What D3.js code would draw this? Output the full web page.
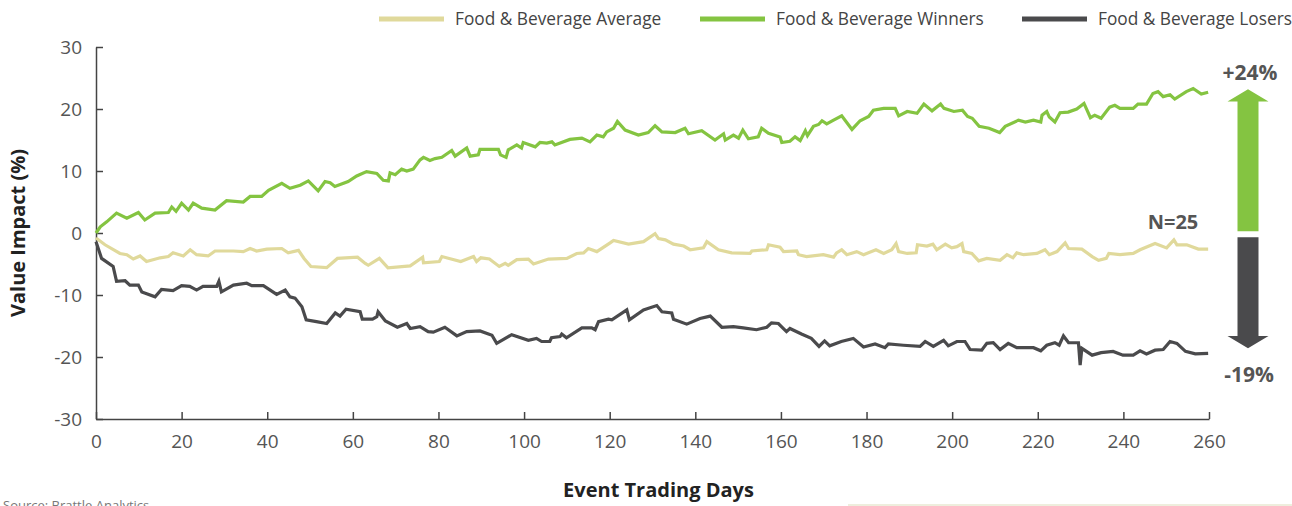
<!DOCTYPE html>
<html>
<head>
<meta charset="utf-8">
<script src="https://cdn.jsdelivr.net/npm/d3@7"></script>
<style>
  body { margin: 0; background: #fff; }
  svg { display: block; font-family: "Open Sans", sans-serif; }
  .axis path, .axis line { stroke: #444; stroke-width: 1.5; }
  .axis text { fill: #555; font-size: 19px; font-family: "Open Sans", sans-serif; }
</style>
</head>
<body>
<svg id="chart" width="1292" height="506"></svg>
<script>
// [day, value impact %]
var averageSeries = [[0,-0.8],[2.1,-1.9],[5.6,-3.3],[7.2,-3.5],[8.7,-4.2],[10.3,-3.7],[11.8,-4.6],[15,-4.0],[16.9,-3.8],[18,-3.2],[20.4,-3.7],[22,-2.7],[23.5,-3.5],[26.2,-3.7],[27.8,-2.9],[32.1,-2.9],[34.4,-3.0],[36,-2.5],[37.5,-2.9],[39.9,-2.6],[43.4,-2.5],[44.9,-3.2],[47.3,-2.8],[48.6,-4.1],[50.2,-5.4],[53.9,-5.6],[56.4,-4.1],[61.1,-3.9],[62.9,-4.9],[63.6,-5.2],[66.2,-4.1],[68.2,-5.6],[73.4,-5.3],[76.3,-3.9],[76.5,-4.8],[80.2,-4.6],[80.8,-3.8],[85.2,-4.6],[88.2,-3.8],[88.9,-4.6],[89.9,-4.0],[91.9,-4.2],[94.2,-5.4],[95.6,-4.9],[96.3,-5.2],[98.3,-4.3],[101,-4.2],[102.2,-5.0],[105.7,-4.2],[110,-4.1],[112.3,-3.3],[113.9,-3.2],[115,-2.5],[117,-3.0],[120.1,-1.6],[120.9,-1.2],[124.4,-1.8],[127.9,-1.4],[130.6,-0.1],[131.4,-0.9],[133,-1.1],[134.9,-1.8],[137.3,-2.1],[138.8,-2.7],[141.9,-2.4],[142.7,-1.4],[145.4,-2.7],[148.5,-3.2],[152.8,-3.3],[153.2,-2.9],[156.7,-2.7],[157.1,-1.9],[159.8,-2.3],[160.6,-3.0],[163.7,-2.9],[164.1,-3.5],[166,-3.8],[169.9,-3.5],[172.3,-3.9],[173,-3.2],[174.2,-2.7],[175.4,-3.5],[177.7,-3.0],[179.3,-3.5],[182.2,-2.7],[184,-3.3],[185.9,-2.7],[186.9,-1.7],[187.5,-3.0],[189.5,-3.3],[191.6,-3.2],[191.9,-1.9],[194.1,-2.1],[195.5,-1.8],[196.4,-2.7],[198.4,-1.8],[199.9,-2.4],[201.1,-2.2],[202.3,-1.7],[202.7,-3.0],[204.6,-3.3],[206.2,-4.5],[208.1,-4.1],[211.2,-4.4],[212.8,-3.5],[214.2,-4.0],[215.1,-3.2],[216.7,-3.5],[219.8,-3.3],[221.7,-2.7],[222.7,-3.5],[224.5,-3.0],[226.4,-1.6],[227.2,-2.5],[230.3,-2.6],[232.7,-3.8],[234.2,-4.4],[236,-4.1],[236.6,-3.3],[239.2,-3.5],[242.3,-3.3],[243.9,-2.7],[247.4,-1.7],[250.1,-2.4],[251.8,-1.1],[252.5,-1.9],[254.8,-1.9],[257.5,-2.6],[259.8,-2.6]];

var winnersSeries = [[0,0],[1,1],[2.5,1.8],[4.8,3.2],[7.2,2.4],[9.9,3.3],[11.4,2.1],[13.8,3.2],[16.9,3.3],[17.7,4.2],[18.7,3.5],[20,4.8],[21.6,3.7],[22.7,4.8],[24.7,4.0],[27.8,3.7],[30.5,5.2],[34.4,5.0],[36,5.9],[38.7,5.9],[40.3,6.9],[43.4,8.0],[45.3,7.2],[47.7,7.7],[49.6,8.4],[51.9,6.8],[53.5,8.3],[54.7,8.1],[55.8,7.5],[58.9,8.3],[60.9,9.2],[63.2,9.9],[65.6,9.6],[67.1,8.5],[68.3,8.4],[68.7,9.7],[69.9,9.4],[71.4,10.3],[72.6,10.0],[74.1,10.3],[75.7,11.8],[76.5,12.2],[78,11.7],[79.2,12.0],[80.8,12.2],[83.1,13.3],[83.9,12.4],[86.6,13.7],[87.4,12.4],[89.3,12.6],[89.7,13.5],[94,13.5],[94.5,12.6],[95.8,12.2],[96.3,13.4],[98.3,14.2],[99.4,13.7],[99.8,14.6],[102.6,13.9],[103.7,14.6],[105.3,14.5],[106.5,14.7],[107.2,14.2],[110.7,15.1],[113.5,15.3],[115.4,14.7],[117,15.8],[118.5,15.5],[119.3,16.3],[120.9,16.9],[121.8,18.0],[123.6,16.6],[126.7,15.8],[129,16.2],[130.6,17.3],[132.2,16.3],[135.3,16.2],[137.6,16.9],[138.4,16.0],[141.5,16.5],[144.6,15.0],[146.6,16.0],[147,15.0],[148.9,15.8],[150.1,15.3],[151.1,16.6],[152.4,15.2],[154.7,15.5],[155.5,16.9],[157.1,16.1],[159.8,15.5],[160.2,14.6],[162.1,14.8],[163.3,15.5],[164.5,14.9],[165.7,16.5],[166.2,15.7],[167.6,17.2],[168.8,17.5],[169.6,18.1],[170.7,17.6],[172.3,18.2],[174.2,18.9],[176.6,16.7],[178.5,18.1],[180.5,18.8],[181.6,19.8],[184,20.1],[186.7,20.1],[187.5,18.9],[189.5,19.6],[191.8,19.3],[193.4,20.8],[195.3,19.7],[197.3,20.8],[198.1,20.1],[200.4,19.6],[202.4,19.8],[203.6,18.8],[204.7,18.5],[206.3,17.2],[208.6,16.9],[211.1,16.2],[212.4,17.2],[215.5,18.2],[217.1,17.9],[219,18.2],[220.7,17.9],[221,19.0],[222.1,19.6],[222.7,18.7],[224,17.9],[225.2,19.4],[227.1,19.5],[229.1,20.0],[230.8,20.9],[232.3,18.6],[233.3,19.0],[234.8,18.5],[236.8,20.3],[238,20.6],[239.2,20.1],[242.3,20.1],[243.4,20.8],[245.4,20.8],[246.9,22.5],[248.1,22.8],[249.3,22.0],[250.9,22.3],[252,21.6],[254.7,22.8],[256.3,23.3],[258.2,22.4],[259.8,22.7]];

var losersSeries = [[0,-1.4],[1.3,-4.1],[4,-5.4],[4.8,-7.8],[6.8,-7.7],[7.9,-8.4],[9.9,-8.4],[10.7,-9.5],[13.8,-10.3],[15.3,-9.1],[18,-9.3],[20,-8.5],[21.9,-8.6],[23.5,-9.2],[25,-8.6],[28.2,-8.6],[28.7,-7.8],[29.3,-9.5],[32.1,-8.4],[35.2,-8.1],[36.4,-8.5],[39.1,-8.5],[42.2,-9.9],[44.2,-9.2],[45.3,-10.3],[46.5,-10.5],[48.1,-11.9],[49.1,-14.0],[51.5,-14.3],[53.9,-14.6],[55.9,-12.9],[57,-13.4],[58.4,-12.3],[61.7,-12.7],[62.2,-13.9],[64.6,-13.9],[65.6,-13.5],[65.9,-12.7],[67.6,-14.2],[70.4,-15.2],[72.6,-14.6],[73.4,-15.4],[75.7,-15.1],[77.6,-15.9],[78.8,-16.0],[81.5,-15.2],[84.3,-16.6],[86.6,-15.9],[89.7,-15.8],[92.5,-16.5],[93.6,-17.8],[97.1,-16.4],[101,-17.3],[102.9,-17.0],[104.1,-17.5],[106,-17.5],[106.4,-16.9],[108.4,-16.7],[108.8,-16.3],[109.9,-16.9],[113.5,-15.3],[115.8,-15.3],[116.6,-15.6],[117.4,-14.3],[119.7,-13.9],[120.5,-14.0],[124,-12.4],[124.6,-14.0],[127.9,-12.4],[131,-11.7],[132.2,-12.7],[134.5,-12.9],[134.9,-13.9],[138,-14.7],[141.1,-13.8],[143.5,-13.4],[146.2,-15.2],[148.9,-15.1],[151.2,-15.3],[154.3,-15.6],[156.7,-15.2],[157.8,-14.5],[159.4,-14.6],[161.3,-15.9],[162.1,-15.4],[164.8,-16.3],[167.1,-17.0],[168.9,-18.3],[170.2,-17.4],[171.4,-18.2],[174.1,-17.5],[176.9,-17.0],[179.3,-18.4],[182,-17.9],[184.3,-18.5],[185.1,-17.9],[188.6,-18.1],[192.5,-18.3],[193.7,-17.5],[195.6,-18.3],[198,-17.3],[199.1,-18.2],[201.1,-17.5],[203,-17.5],[204.2,-18.8],[206.9,-18.9],[208.1,-17.8],[209.6,-17.7],[211.2,-18.8],[213.1,-17.8],[215.1,-18.5],[219,-18.5],[220.7,-19.0],[222.1,-18.1],[224,-17.7],[225,-18.1],[226,-16.6],[227.2,-17.7],[229.5,-17.7],[229.9,-21.3],[230.3,-18.6],[232.7,-19.7],[234.8,-19.3],[237.6,-19.1],[239.9,-19.7],[242.3,-19.7],[243.9,-19.0],[245.4,-19.5],[247.4,-18.9],[249.3,-18.8],[250.9,-17.5],[252.5,-17.8],[254.5,-19.1],[256.8,-19.5],[259.8,-19.4]];

var seriesNames = ["Food & Beverage Average", "Food & Beverage Winners", "Food & Beverage Losers"];
var seriesColors = ["#e0d99b", "#84c441", "#4a4a4c"];
var xTicks = [0, 20, 40, 60, 80, 100, 120, 140, 160, 180, 200, 220, 240, 260];
var yTicks = [-30, -20, -10, 0, 10, 20, 30];
var winnersLabel = "+24%";
var losersLabel = "-19%";
var countLabel = "N=25";

var svg = d3.select("#chart");
var margin = {left: 96, top: 47, right: 83, bottom: 87};
var width = 1292 - margin.left - margin.right;
var height = 506 - margin.top - margin.bottom;

var x = d3.scaleLinear().domain([0, 260]).range([0, width]);
var y = d3.scaleLinear().domain([-30, 30]).range([height, 0]);

var g = svg.append("g")
  .attr("transform", "translate(" + margin.left + "," + margin.top + ")");

// plain hyphen for negatives, like the original
var plain = function(d) { return String(d); };

g.append("g")
  .attr("class", "axis")
  .attr("transform", "translate(0," + height + ")")
  .call(d3.axisBottom(x).tickValues(xTicks).tickFormat(plain).tickSize(-7).tickPadding(16).tickSizeOuter(0));

g.append("g")
  .attr("class", "axis")
  .call(d3.axisLeft(y).tickValues(yTicks).tickFormat(plain).tickSize(-7).tickPadding(14).tickSizeOuter(0));

var line = d3.line()
  .x(function(d) { return x(d[0]); })
  .y(function(d) { return y(d[1]); });

var allSeries = [averageSeries, winnersSeries, losersSeries];
g.selectAll(".series")
  .data(allSeries)
  .enter()
  .append("path")
  .attr("class", "series")
  .attr("d", line)
  .attr("fill", "none")
  .attr("stroke", function(d, i) { return seriesColors[i]; })
  .attr("stroke-width", 3.2)
  .attr("stroke-linejoin", "miter");

// axis titles
svg.append("text")
  .attr("transform", "translate(25," + (margin.top + height / 2) + ") rotate(-90)")
  .attr("text-anchor", "middle")
  .style("font-size", "20px")
  .style("font-weight", "bold")
  .attr("fill", "#222")
  .text("Value Impact (%)");

svg.append("text")
  .attr("x", margin.left + width / 2 + 6)
  .attr("y", 497)
  .attr("text-anchor", "middle")
  .style("font-size", "20px")
  .style("font-weight", "bold")
  .attr("fill", "#222")
  .text("Event Trading Days");

// legend
var legendX = [379, 700, 1022];
var legend = svg.selectAll(".legend")
  .data(seriesNames)
  .enter()
  .append("g")
  .attr("class", "legend")
  .attr("transform", function(d, i) { return "translate(" + legendX[i] + ",19)"; });
legend.append("line")
  .attr("x1", 0).attr("x2", 65)
  .attr("stroke", function(d, i) { return seriesColors[i]; })
  .attr("stroke-width", 5);
legend.append("text")
  .attr("x", 76)
  .attr("dy", "0.35em")
  .style("font-size", "17.3px")
  .attr("fill", "#444")
  .text(function(d) { return d; });

// arrows: winners up, losers down
var ax = margin.left + width + 39;
var up = g.append("g").attr("transform", "translate(" + (ax - margin.left) + ",0)");
var upTop = y(23.2), upHead = y(21.2), upBottom = y(0.3);
up.append("path")
  .attr("d", "M0," + upTop + "L20.5," + upHead + "L10.5," + upHead + "L10.5," + upBottom +
    "L-10.5," + upBottom + "L-10.5," + upHead + "L-20.5," + upHead + "Z")
  .attr("fill", seriesColors[1]);
var dnTop = y(-0.7), dnHead = y(-16.6), dnTip = y(-18.6);
up.append("path")
  .attr("d", "M-10.5," + dnTop + "L10.5," + dnTop + "L10.5," + dnHead + "L20.5," + dnHead +
    "L0," + dnTip + "L-20.5," + dnHead + "L-10.5," + dnHead + "Z")
  .attr("fill", seriesColors[2]);

svg.append("text")
  .attr("x", ax + 2).attr("y", 80)
  .attr("text-anchor", "middle")
  .style("font-size", "21px").style("font-weight", "bold")
  .attr("fill", "#555")
  .text(winnersLabel);
svg.append("text")
  .attr("x", ax + 1).attr("y", 382)
  .attr("text-anchor", "middle")
  .style("font-size", "21px").style("font-weight", "bold")
  .attr("fill", "#555")
  .text(losersLabel);
svg.append("text")
  .attr("x", 1173).attr("y", 229)
  .attr("text-anchor", "middle")
  .style("font-size", "20px").style("font-weight", "bold")
  .attr("fill", "#555")
  .text(countLabel);

// source note, mostly below the bottom edge as in the original
svg.append("text")
  .attr("x", 3).attr("y", 510)
  .style("font-size", "13px")
  .attr("fill", "#777")
  .text("Source: Brattle Analytics");

svg.append("rect")
  .attr("x", 848).attr("y", 504)
  .attr("width", 444).attr("height", 2)
  .attr("fill", "#eeeedd");
</script>
</body>
</html>
